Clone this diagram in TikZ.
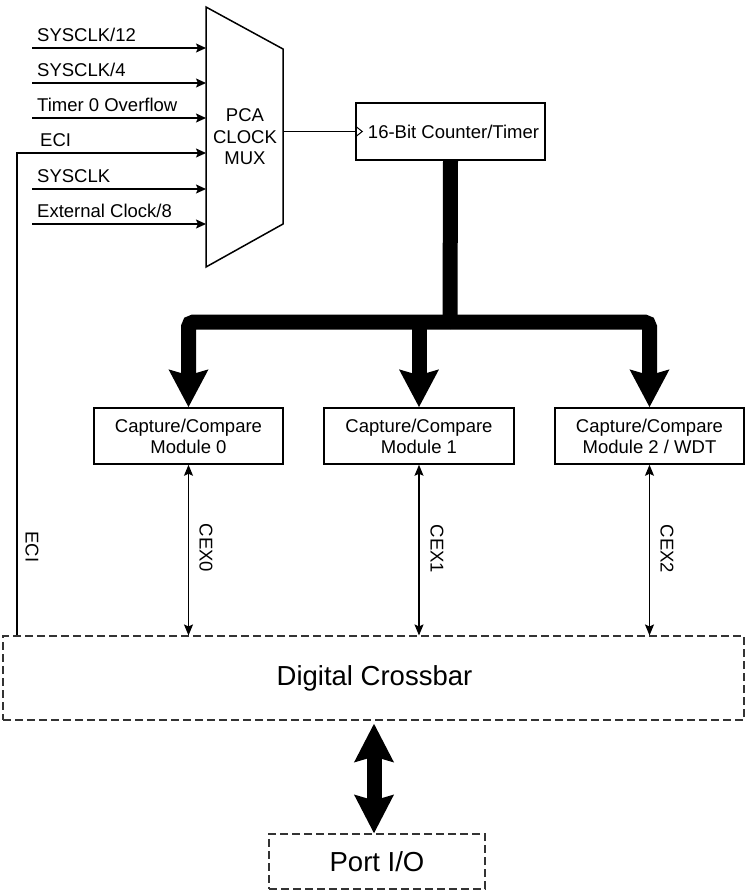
\documentclass[tikz,border=0pt]{standalone}
\usepackage{fontspec}
\setmainfont{Liberation Sans}
\usetikzlibrary{arrows.meta}
\begin{document}
\begin{tikzpicture}[x=1pt,y=-1pt,
  txt/.style={font=\fontsize{18.5}{21.5}\selectfont, inner sep=0pt},
  lbl/.style={txt, anchor=base west},
  inarr/.style={line width=1.4pt, -{Stealth[length=10pt,width=9pt,inset=2pt]}},
  box/.style={draw, line width=1.5pt, rectangle, inner sep=0pt, align=center,
    font=\fontsize{18.5}{21}\selectfont},
  dbox/.style={draw=black!80, line width=1.1pt, dash pattern=on 8pt off 4pt, rectangle, inner sep=0pt},
  cex/.style={line width=1.2pt, {Stealth[length=11pt,width=9pt,inset=2pt]}-{Stealth[length=11pt,width=9pt,inset=2pt]}},
  bus/.style={line width=15pt, rounded corners=5pt},
  bushead/.style={-{Stealth[length=37pt,width=38pt,inset=5pt]}},
  vlab/.style={txt, rotate=-90}
]
\useasboundingbox (0,0) rectangle (746,892);

% PCA clock mux
\draw[line width=1.5pt, line join=miter] (206,7) -- (283,49) -- (283,224) -- (206,267) -- cycle;
\node[txt, align=center] (mux) at (245,137) {PCA\\CLOCK\\MUX};
\coordinate (muxout) at (283,131.5);

% inputs
\foreach \n/\y/\t in {1/48/SYSCLK\slash 12, 2/83/SYSCLK\slash 4, 3/118/Timer 0 Overflow, 5/189/SYSCLK, 6/224/External Clock\slash 8}{
  \coordinate (s\n) at (32,\y);
  \coordinate (e\n) at (206,\y);
  \draw[inarr] (s\n) -- (e\n);
  \node[lbl] (l\n) at (37,\y-6.5) {\t};
}
\coordinate (e4) at (206,153);
\coordinate (ecibot) at (17,636);
\node[lbl] (l4) at (40,146.5) {ECI};
\draw[inarr] (ecibot) |- (e4);
\node[vlab] (ecilbl) at (32,547) {ECI};

% counter
\node[box, minimum width=189pt, minimum height=57pt] (cnt) at (450.5,131.5) {\hspace*{6pt}16-Bit Counter/Timer};
\draw[line width=1pt] (muxout) -- (cnt.west);
\draw[line width=1pt, line join=miter] ([yshift=-5.5pt]cnt.west) -- ([xshift=7pt]cnt.west) -- ([yshift=5.5pt]cnt.west);

% capture/compare modules
\node[box, minimum width=189pt, minimum height=56pt] (cc0) at (188.5,436) {Capture/Compare\\Module 0};
\node[box, minimum width=190pt, minimum height=56pt] (cc1) at (419,436) {Capture/Compare\\Module 1};
\node[box, minimum width=189pt, minimum height=56pt] (cc2) at (649.5,436) {Capture/Compare\\Module 2 / WDT};

% bus
\coordinate (bj) at (450,322);
\draw[bus] (cnt.south) -- (bj);
\draw[bus, bushead] (bj) -| (cc0.north);
\draw[bus, bushead] (bj) -| (cc2.north);
\draw[bus, bushead] (cc1.north |- bj) -- (cc1.north);

% crossbar and port
\node[dbox, minimum width=741pt, minimum height=84pt] (cb) at (373.5,678) {};
\node[txt, font=\fontsize{27.5}{30}\selectfont] (cbt) at (374.5,678) {Digital Crossbar};
\node[dbox, minimum width=216pt, minimum height=55pt] (port) at (377,861.5) {};
\node[txt, font=\fontsize{27.5}{30}\selectfont] (portt) at (377,861.5) {Port I/O};

% CEX lines
\draw[cex] (cc0.south) -- (cc0.south |- cb.north);
\draw[cex] (cc1.south) -- (cc1.south |- cb.north);
\draw[cex] (cc2.south) -- (cc2.south |- cb.north);
\node[vlab] (cx0) at (206,548) {CEX0};
\node[vlab] (cx1) at (437,549) {CEX1};
\node[vlab] (cx2) at (667,549) {CEX2};

% big bidirectional arrow
\draw[line width=15pt, {Stealth[length=38pt,width=38pt,inset=5pt]}-{Stealth[length=38pt,width=38pt,inset=5pt]}, shorten <=3pt]
  (cb.south -| 374,0) -- (port.north -| 374,0);
\end{tikzpicture}
\end{document}
